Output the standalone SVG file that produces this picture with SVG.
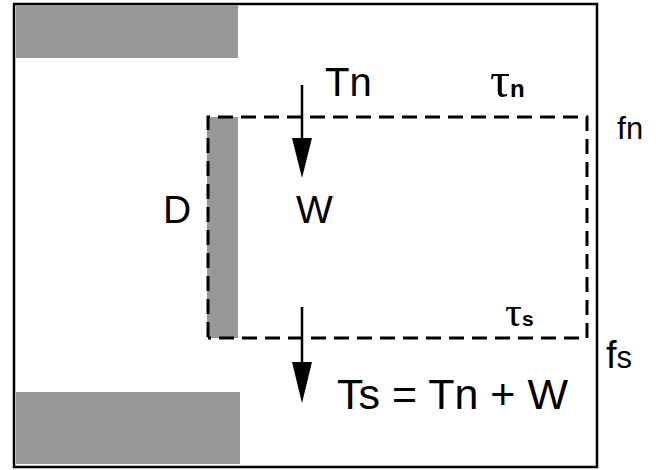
<svg xmlns="http://www.w3.org/2000/svg" width="671" height="470" viewBox="0 0 671 470">
<defs>
<style>
.t{font-family:"Liberation Sans",Arial,sans-serif;fill:#000}
.g{font-family:"Liberation Serif","Times New Roman",serif;fill:#000}
.b{font-family:"Liberation Sans",Arial,sans-serif;font-weight:bold;fill:#000}
.bar{fill:#979797}
.dash{fill:none;stroke:#000;stroke-width:3;stroke-dasharray:15 8}
.ln{stroke:#000;stroke-width:2.5;fill:none}
</style>
</defs>
<rect x="0" y="0" width="671" height="470" fill="#fff"/>
<g id="frame"><rect x="14" y="4" width="583" height="463" fill="none" stroke="#000" stroke-width="2.5"/></g>
<g id="top-wall"><rect class="bar" x="16" y="5" width="222" height="53"/></g>
<g id="bottom-wall"><rect class="bar" x="16" y="392" width="224" height="72"/></g>
<g id="strip"><rect class="bar" x="207" y="117" width="31" height="221"/></g>
<g id="control-volume"><path class="dash" d="M208 337 V117 H587 V338 H208"/></g>
<g id="connectors">
<line class="ln" x1="302" y1="85" x2="302" y2="142"/>
<polygon points="292,138 312,138 302,178" fill="#000"/>
<line class="ln" x1="302" y1="307" x2="302" y2="366"/>
<polygon points="292,362 312,362 302,403" fill="#000"/>
</g>
<g id="labels">
<text class="t" x="325" y="96" font-size="40">Tn</text>
<text x="490" y="97"><tspan class="g" font-size="50">τ</tspan><tspan class="b" font-size="24">n</tspan></text>
<text x="617" y="139" class="t"><tspan font-size="32">f</tspan><tspan font-size="31">n</tspan></text>
<text class="t" x="163" y="223" font-size="39">D</text>
<text class="t" x="296" y="223" font-size="39">W</text>
<text x="505" y="326"><tspan class="g" font-size="42">τ</tspan><tspan class="b" font-size="21">s</tspan></text>
<text x="606" y="368" class="t"><tspan font-size="38">f</tspan><tspan font-size="31">s</tspan></text>
<text class="t" x="337" y="409" font-size="42" textLength="231" lengthAdjust="spacingAndGlyphs">Ts = Tn + W</text>
</g>
</svg>
